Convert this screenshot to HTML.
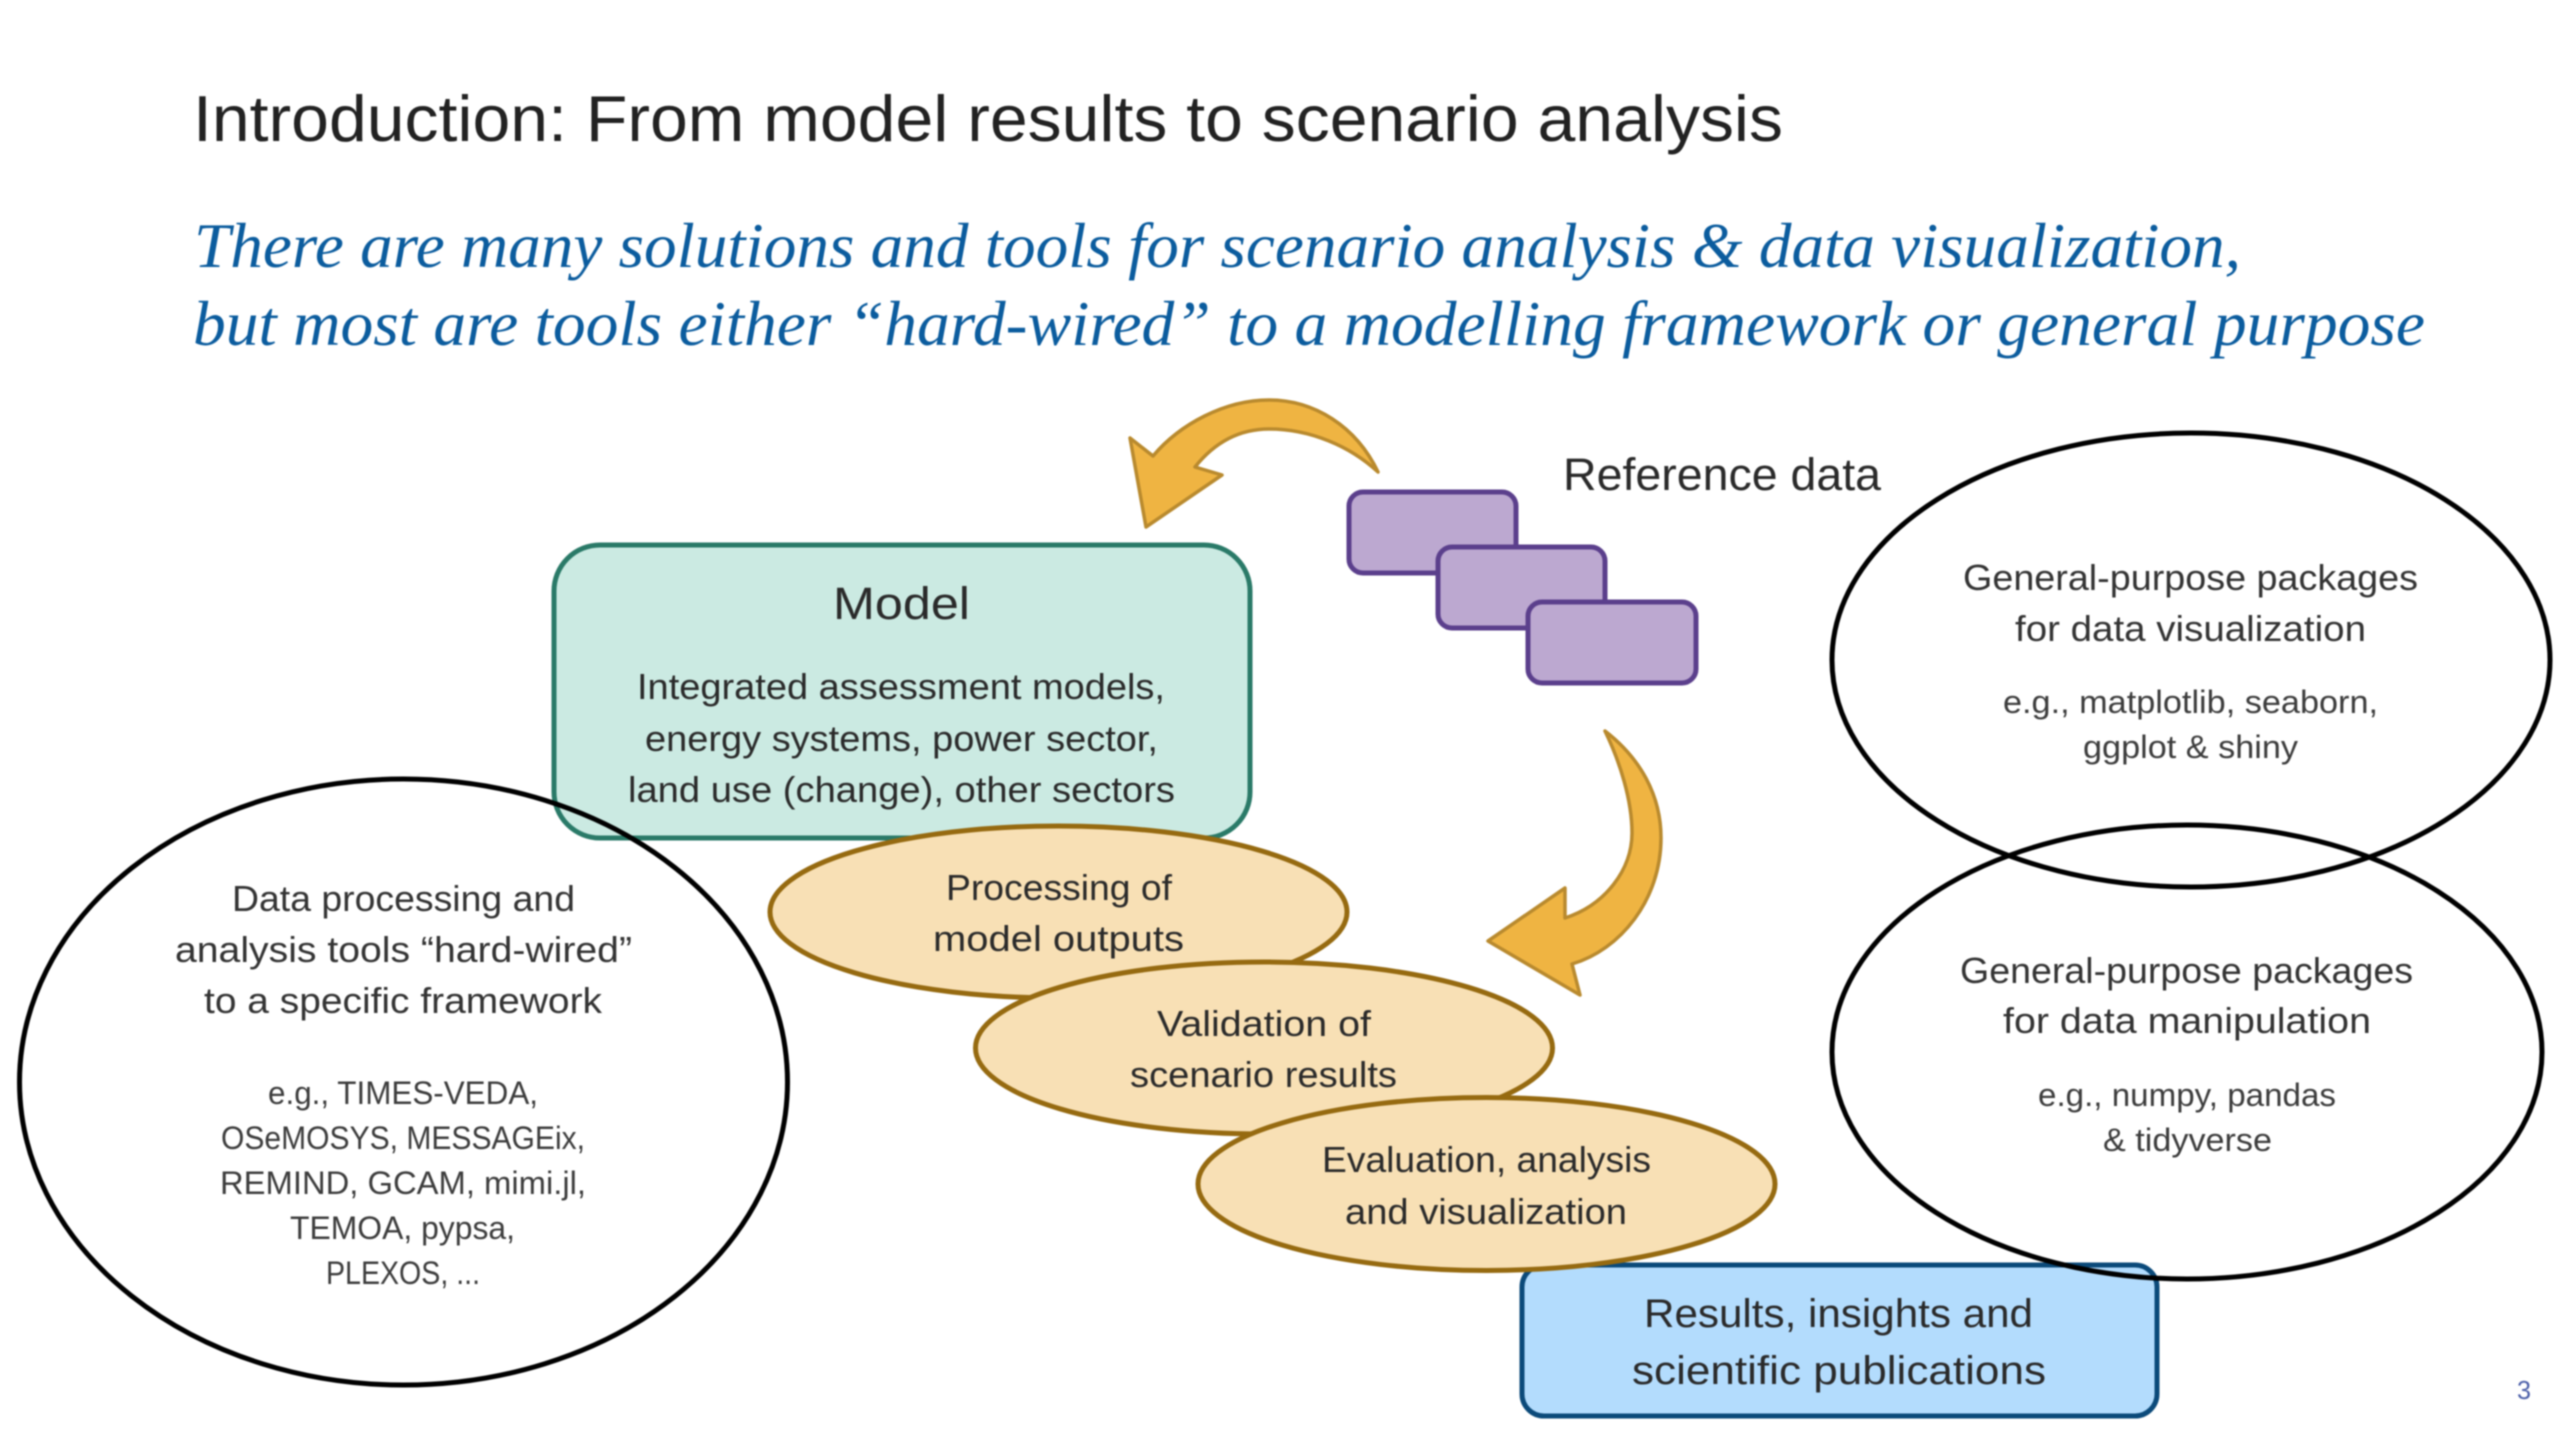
<!DOCTYPE html>
<html lang="en">
<head>
<meta charset="utf-8">
<title>Introduction: From model results to scenario analysis</title>
<style>
html,body{margin:0;padding:0;width:2560px;height:1440px;background:#fff;overflow:hidden}
svg{display:block;filter:blur(.8px)}
text{font-family:"Liberation Sans",sans-serif;fill:#2a2a2a}
.h{font-family:"Liberation Serif",serif;font-style:italic;font-size:64px;fill:#0b5c9e}
.m{font-size:36px}
.s{font-size:32px;fill:#3c3c3c}
.g{font-size:36px;fill:#333}
.e{fill:#f8e0b5;stroke:#966a10;stroke-width:5}
.p{fill:#bca8d0;stroke:#5b3f8c;stroke-width:5}
.a{fill:#efb442;stroke:#b98a2e;stroke-width:3.5;stroke-linejoin:round}
.c{fill:none;stroke:#000;stroke-width:5}
</style>
</head>
<body>
<svg width="2560" height="1440" viewBox="0 0 2560 1440" xmlns="http://www.w3.org/2000/svg">
<rect width="2560" height="1440" fill="#fff"/>

<text x="193" y="141" font-size="65" textLength="1590" lengthAdjust="spacingAndGlyphs" style="fill:#222">Introduction: From model results to scenario analysis</text>
<text class="h" x="194" y="267" textLength="2047" lengthAdjust="spacingAndGlyphs">There are many solutions and tools for scenario analysis &amp; data visualization,</text>
<text class="h" x="193" y="345" textLength="2232" lengthAdjust="spacingAndGlyphs">but most are tools either “hard-wired” to a modelling framework or general purpose</text>

<path class="a" d="M1378 472C1356 426 1314 400 1269 400C1225 400 1180 424 1153 456L1130 438L1146 527L1222 475L1195 467C1215 442 1240 429 1269 429C1310 429 1350 446 1378 472Z"/>
<path class="a" d="M1605 731C1640 758 1661 795 1661 838C1661 900 1620 950 1572 964L1580 995L1488 941L1565 888L1565 918C1605 905 1632 870 1632 833C1632 800 1620 762 1605 731Z"/>

<rect class="p" x="1349" y="492" width="167" height="81" rx="14"/>
<rect class="p" x="1438" y="547" width="167" height="81" rx="14"/>
<rect class="p" x="1528" y="602" width="168" height="81" rx="14"/>
<text x="1563" y="490" font-size="45" textLength="318" lengthAdjust="spacingAndGlyphs">Reference data</text>

<rect x="554" y="545" width="696" height="293" rx="46" fill="#cbeae2" stroke="#2a7a68" stroke-width="5"/>
<text x="833" y="619" font-size="45" textLength="137" lengthAdjust="spacingAndGlyphs">Model</text>
<text class="m" x="637" y="699" textLength="528" lengthAdjust="spacingAndGlyphs">Integrated assessment models,</text>
<text class="m" x="645" y="751" textLength="513" lengthAdjust="spacingAndGlyphs">energy systems, power sector,</text>
<text class="m" x="628" y="802" textLength="547" lengthAdjust="spacingAndGlyphs">land use (change), other sectors</text>

<rect x="1522" y="1265" width="635" height="151" rx="22" fill="#b3dcfd" stroke="#0b4a7a" stroke-width="5"/>
<text x="1644" y="1327" font-size="40" textLength="389" lengthAdjust="spacingAndGlyphs">Results, insights and</text>
<text x="1632" y="1384" font-size="40" textLength="414" lengthAdjust="spacingAndGlyphs">scientific publications</text>

<ellipse class="e" cx="1058.500" cy="912" rx="288.500" ry="86"/>
<text class="m" x="946" y="900" textLength="226" lengthAdjust="spacingAndGlyphs">Processing of</text>
<text class="m" x="933" y="951" textLength="251" lengthAdjust="spacingAndGlyphs">model outputs</text>

<ellipse class="e" cx="1264" cy="1048" rx="288.500" ry="86"/>
<text class="m" x="1157" y="1036" textLength="214" lengthAdjust="spacingAndGlyphs">Validation of</text>
<text class="m" x="1130" y="1087" textLength="267" lengthAdjust="spacingAndGlyphs">scenario results</text>

<ellipse class="e" cx="1486.500" cy="1184" rx="288.500" ry="86.500"/>
<text class="m" x="1322" y="1172" textLength="329" lengthAdjust="spacingAndGlyphs">Evaluation, analysis</text>
<text class="m" x="1345" y="1224" textLength="282" lengthAdjust="spacingAndGlyphs">and visualization</text>

<ellipse class="c" cx="403.500" cy="1082" rx="384" ry="303"/>
<text class="g" x="232" y="911" textLength="343" lengthAdjust="spacingAndGlyphs">Data processing and</text>
<text class="g" x="175" y="962" textLength="457" lengthAdjust="spacingAndGlyphs">analysis tools “hard-wired”</text>
<text class="g" x="204" y="1013" textLength="398" lengthAdjust="spacingAndGlyphs">to a specific framework</text>
<text class="s" x="268" y="1104" textLength="270" lengthAdjust="spacingAndGlyphs">e.g., TIMES-VEDA,</text>
<text class="s" x="221" y="1149" textLength="364" lengthAdjust="spacingAndGlyphs">OSeMOSYS, MESSAGEix,</text>
<text class="s" x="220" y="1194" textLength="366" lengthAdjust="spacingAndGlyphs">REMIND, GCAM, mimi.jl,</text>
<text class="s" x="290" y="1239" textLength="225" lengthAdjust="spacingAndGlyphs">TEMOA, pypsa,</text>
<text class="s" x="326" y="1284" textLength="154" lengthAdjust="spacingAndGlyphs">PLEXOS, ...</text>

<ellipse class="c" cx="2191" cy="660" rx="359" ry="227"/>
<text class="g" x="1963" y="590" textLength="455" lengthAdjust="spacingAndGlyphs">General-purpose packages</text>
<text class="g" x="2015" y="641" textLength="351" lengthAdjust="spacingAndGlyphs">for data visualization</text>
<text class="s" x="2003" y="713" textLength="375" lengthAdjust="spacingAndGlyphs">e.g., matplotlib, seaborn,</text>
<text class="s" x="2083" y="758" textLength="215" lengthAdjust="spacingAndGlyphs">ggplot &amp; shiny</text>

<ellipse class="c" cx="2187" cy="1052" rx="355" ry="227"/>
<text class="g" x="1960" y="983" textLength="453" lengthAdjust="spacingAndGlyphs">General-purpose packages</text>
<text class="g" x="2003" y="1033" textLength="368" lengthAdjust="spacingAndGlyphs">for data manipulation</text>
<text class="s" x="2038" y="1106" textLength="298" lengthAdjust="spacingAndGlyphs">e.g., numpy, pandas</text>
<text class="s" x="2103" y="1151" textLength="169" lengthAdjust="spacingAndGlyphs">&amp; tidyverse</text>

<text x="2517" y="1399" font-size="26" textLength="14" lengthAdjust="spacingAndGlyphs" style="fill:#4a5ea8">3</text>
</svg>
</body>
</html>
